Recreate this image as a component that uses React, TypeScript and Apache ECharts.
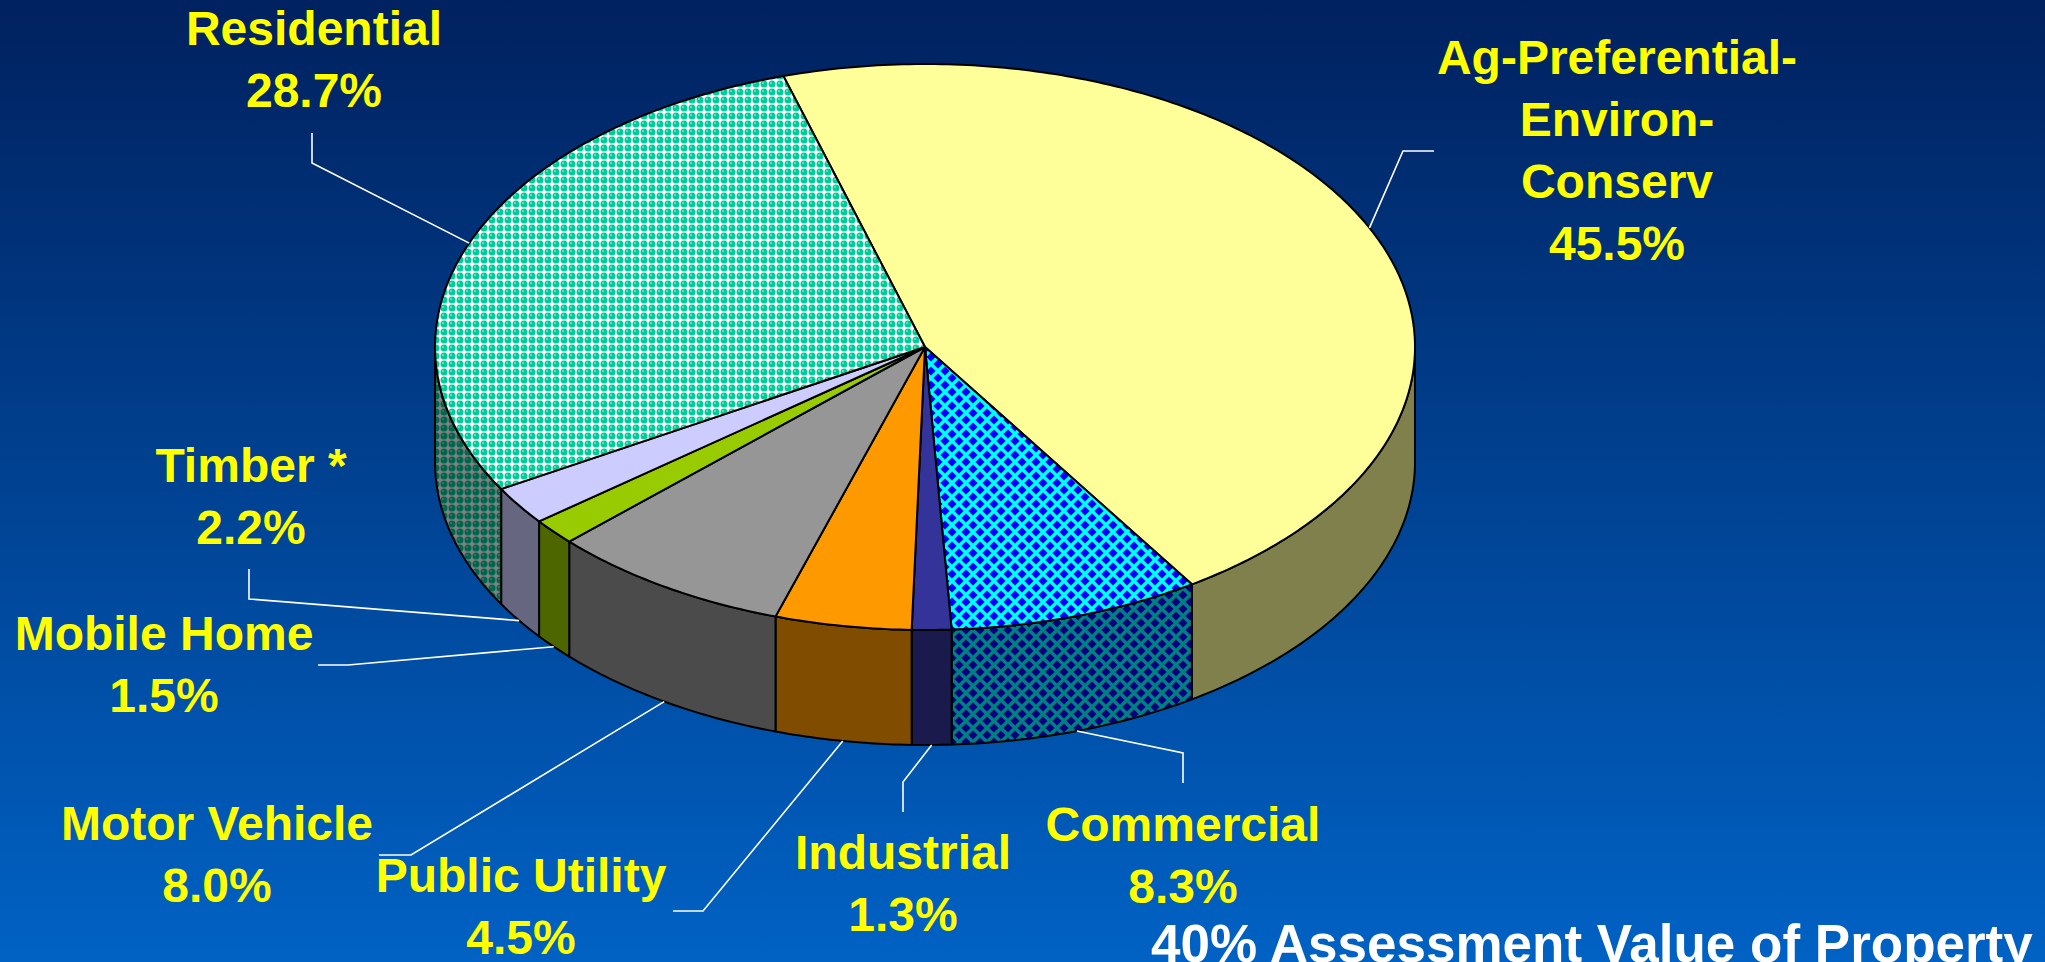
import React, { useEffect, useRef } from "react";
import * as echarts from "echarts";

// ---------------- data ----------------
const categories = [
  "Ag-Preferential-\nEnviron-\nConserv",
  "Commercial",
  "Industrial",
  "Public Utility",
  "Motor Vehicle",
  "Mobile Home",
  "Timber *",
  "Residential",
];
const shares = [45.5, 8.3, 1.3, 4.5, 8.0, 1.5, 2.2, 28.7];
const footerText = "40% Assessment Value of Property";

// ---------------- styles / layout ----------------
const sliceFills = [
  { kind: "solid", color: [255, 255, 153] },
  { kind: "diamond", bg: [0, 255, 255], fg: [0, 0, 255] },
  { kind: "solid", color: [51, 51, 153] },
  { kind: "solid", color: [255, 153, 0] },
  { kind: "solid", color: [150, 150, 150] },
  { kind: "solid", color: [153, 204, 0] },
  { kind: "solid", color: [204, 204, 255] },
  { kind: "dots", bg: [255, 255, 255], fg: [0, 204, 153], hi: [120, 230, 200] },
];

const PIE = { cx: 925, cy: 347, rx: 490, ry: 283, depth: 115, startDeg: -106.8 };

// label block centres, leader elbows and leader ends
const labelCenters = [
  [1617, 150],
  [1183, 855],
  [903, 883],
  [521, 906],
  [217, 854],
  [164, 664],
  [251, 496],
  [314, 59],
];
const leaderElbows = [
  [1403, 151],
  [1183, 753],
  [903, 782],
  [703, 911],
  [411, 855],
  [348, 665],
  [249, 599],
  [312, 163],
];
const leaderEnds = [
  [1434, 151],
  [1183, 783],
  [903, 812],
  [673, 911],
  [379, 855],
  [318, 665],
  [249, 569],
  [312, 133],
];

const FONT_FAMILY = '"Liberation Sans", Arial, Helvetica, sans-serif';
const LINE_H = 62;

function rgb(c: number[], k = 1) {
  return `rgb(${Math.round(c[0] * k)},${Math.round(c[1] * k)},${Math.round(c[2] * k)})`;
}

function makeDiamond(bg: number[], fg: number[], k: number) {
  const s = 14;
  const cv = document.createElement("canvas");
  cv.width = s;
  cv.height = s;
  const ctx = cv.getContext("2d")!;
  ctx.fillStyle = rgb(bg, k);
  ctx.fillRect(0, 0, s, s);
  ctx.fillStyle = rgb(fg, k);
  const h = 4.6;
  const centres = [
    [s / 2, s / 2],
    [0, 0],
    [s, 0],
    [0, s],
    [s, s],
  ];
  centres.forEach(([x, y]) => {
    ctx.beginPath();
    ctx.moveTo(x, y - h);
    ctx.lineTo(x + h, y);
    ctx.lineTo(x, y + h);
    ctx.lineTo(x - h, y);
    ctx.closePath();
    ctx.fill();
  });
  return { image: cv.toDataURL(), repeat: "repeat", imageWidth: s, imageHeight: s };
}

function makeDots(bg: number[], fg: number[], hi: number[], k: number) {
  const s = 8;
  const cv = document.createElement("canvas");
  cv.width = s;
  cv.height = s;
  const ctx = cv.getContext("2d")!;
  ctx.fillStyle = rgb(bg, k);
  ctx.fillRect(0, 0, s, s);
  ctx.fillStyle = rgb(fg, k);
  ctx.beginPath();
  ctx.arc(4, 4, 3.5, 0, Math.PI * 2);
  ctx.fill();
  ctx.fillStyle = rgb(hi, k);
  ctx.beginPath();
  ctx.arc(3, 3, 1.0, 0, Math.PI * 2);
  ctx.fill();
  return { image: cv.toDataURL(), repeat: "repeat", imageWidth: s, imageHeight: s };
}

function fillFor(i: number, k: number): any {
  const f: any = sliceFills[i];
  if (f.kind === "diamond") return makeDiamond(f.bg, f.fg, k);
  if (f.kind === "dots") return makeDots(f.bg, f.fg, f.hi, k);
  return rgb(f.color, k);
}

function rim(d0: number, d1: number, dy: number) {
  const pts: number[][] = [];
  const n = Math.max(2, Math.ceil(Math.abs(d1 - d0) / 0.75));
  for (let j = 0; j <= n; j++) {
    const d = d0 + ((d1 - d0) * j) / n;
    const r = (d * Math.PI) / 180;
    pts.push([PIE.cx + PIE.rx * Math.cos(r), PIE.cy + dy + PIE.ry * Math.sin(r)]);
  }
  return pts;
}

export default function App() {
  const ref = useRef<HTMLDivElement>(null);

  useEffect(() => {
    document.body.style.margin = "0";
    document.body.style.overflow = "hidden";
    if (!ref.current) return;
    const chart = echarts.init(ref.current, undefined, { renderer: "svg" });

    const topFills = shares.map((_, i) => fillFor(i, 1));
    const sideFills = shares.map((_, i) => fillFor(i, 0.5));
    const total = shares.reduce((a, b) => a + b, 0);

    const option: any = {
      animation: false,
      backgroundColor: new echarts.graphic.LinearGradient(0, 0, 0, 1, [
        { offset: 0, color: "#00215F" },
        { offset: 1, color: "#0062C4" },
      ]),
      series: [
        {
          type: "custom",
          coordinateSystem: "none",
          silent: true,
          data: shares,
          renderItem: (params: any, api: any) => {
            const i = params.dataIndex;
            const v = api.value(0) as number;
            let cum = 0;
            for (let k = 0; k < i; k++) cum += shares[k];
            const a0 = PIE.startDeg + (cum / total) * 360;
            const a1 = a0 + (v / total) * 360;
            const children: any[] = [];

            // side walls (front half only)
            [-360, 0, 360].forEach((off) => {
              const s = Math.max(a0, off);
              const e = Math.min(a1, off + 180);
              if (e > s) {
                const pts = rim(s, e, 0).concat(rim(e, s, PIE.depth));
                children.push({
                  type: "polygon",
                  shape: { points: pts },
                  style: { fill: sideFills[i], stroke: "#000", lineWidth: 2, lineJoin: "round" },
                });
              }
            });

            // top face
            const topPts = [[PIE.cx, PIE.cy]].concat(rim(a0, a1, 0));
            children.push({
              type: "polygon",
              shape: { points: topPts },
              style: { fill: topFills[i], stroke: "#000", lineWidth: 2, lineJoin: "round" },
            });

            // leader line
            const m = (((a0 + a1) / 2) * Math.PI) / 180;
            const front = Math.sin(m) > 0;
            const anchor = [
              PIE.cx + PIE.rx * Math.cos(m),
              PIE.cy + (front ? PIE.depth : 0) + PIE.ry * Math.sin(m),
            ];
            children.push({
              type: "polyline",
              shape: { points: [anchor, leaderElbows[i], leaderEnds[i]] },
              style: { stroke: "#FFFFFF", lineWidth: 1.6, fill: null },
            });

            // label lines (one text element per line)
            const lines = (categories[i] + "\n" + v.toFixed(1) + "%").split("\n");
            const y0 = labelCenters[i][1] - ((lines.length - 1) * LINE_H) / 2;
            lines.forEach((ln, j) => {
              children.push({
                type: "text",
                style: {
                  text: ln,
                  x: labelCenters[i][0],
                  y: y0 + j * LINE_H,
                  fill: "#FFFF00",
                  fontSize: 48,
                  fontWeight: "bold",
                  fontFamily: FONT_FAMILY,
                  align: "center",
                  verticalAlign: "middle",
                  textAlign: "center",
                  textVerticalAlign: "middle",
                },
              });
            });

            return { type: "group", children };
          },
        },
      ],
      graphic: [
        {
          type: "text",
          x: 1151,
          y: 943,
          silent: true,
          style: {
            text: footerText,
            fill: "#FFFFFF",
            fontSize: 53,
            fontWeight: "bold",
            fontFamily: FONT_FAMILY,
            align: "left",
            verticalAlign: "middle",
            textAlign: "left",
            textVerticalAlign: "middle",
          },
        },
      ],
    };

    chart.setOption(option);
    const onResize = () => chart.resize();
    window.addEventListener("resize", onResize);
    return () => {
      window.removeEventListener("resize", onResize);
      chart.dispose();
    };
  }, []);

  return (
    <div
      ref={ref}
      style={{ position: "fixed", left: 0, top: 0, width: "100vw", height: "100vh" }}
    />
  );
}
